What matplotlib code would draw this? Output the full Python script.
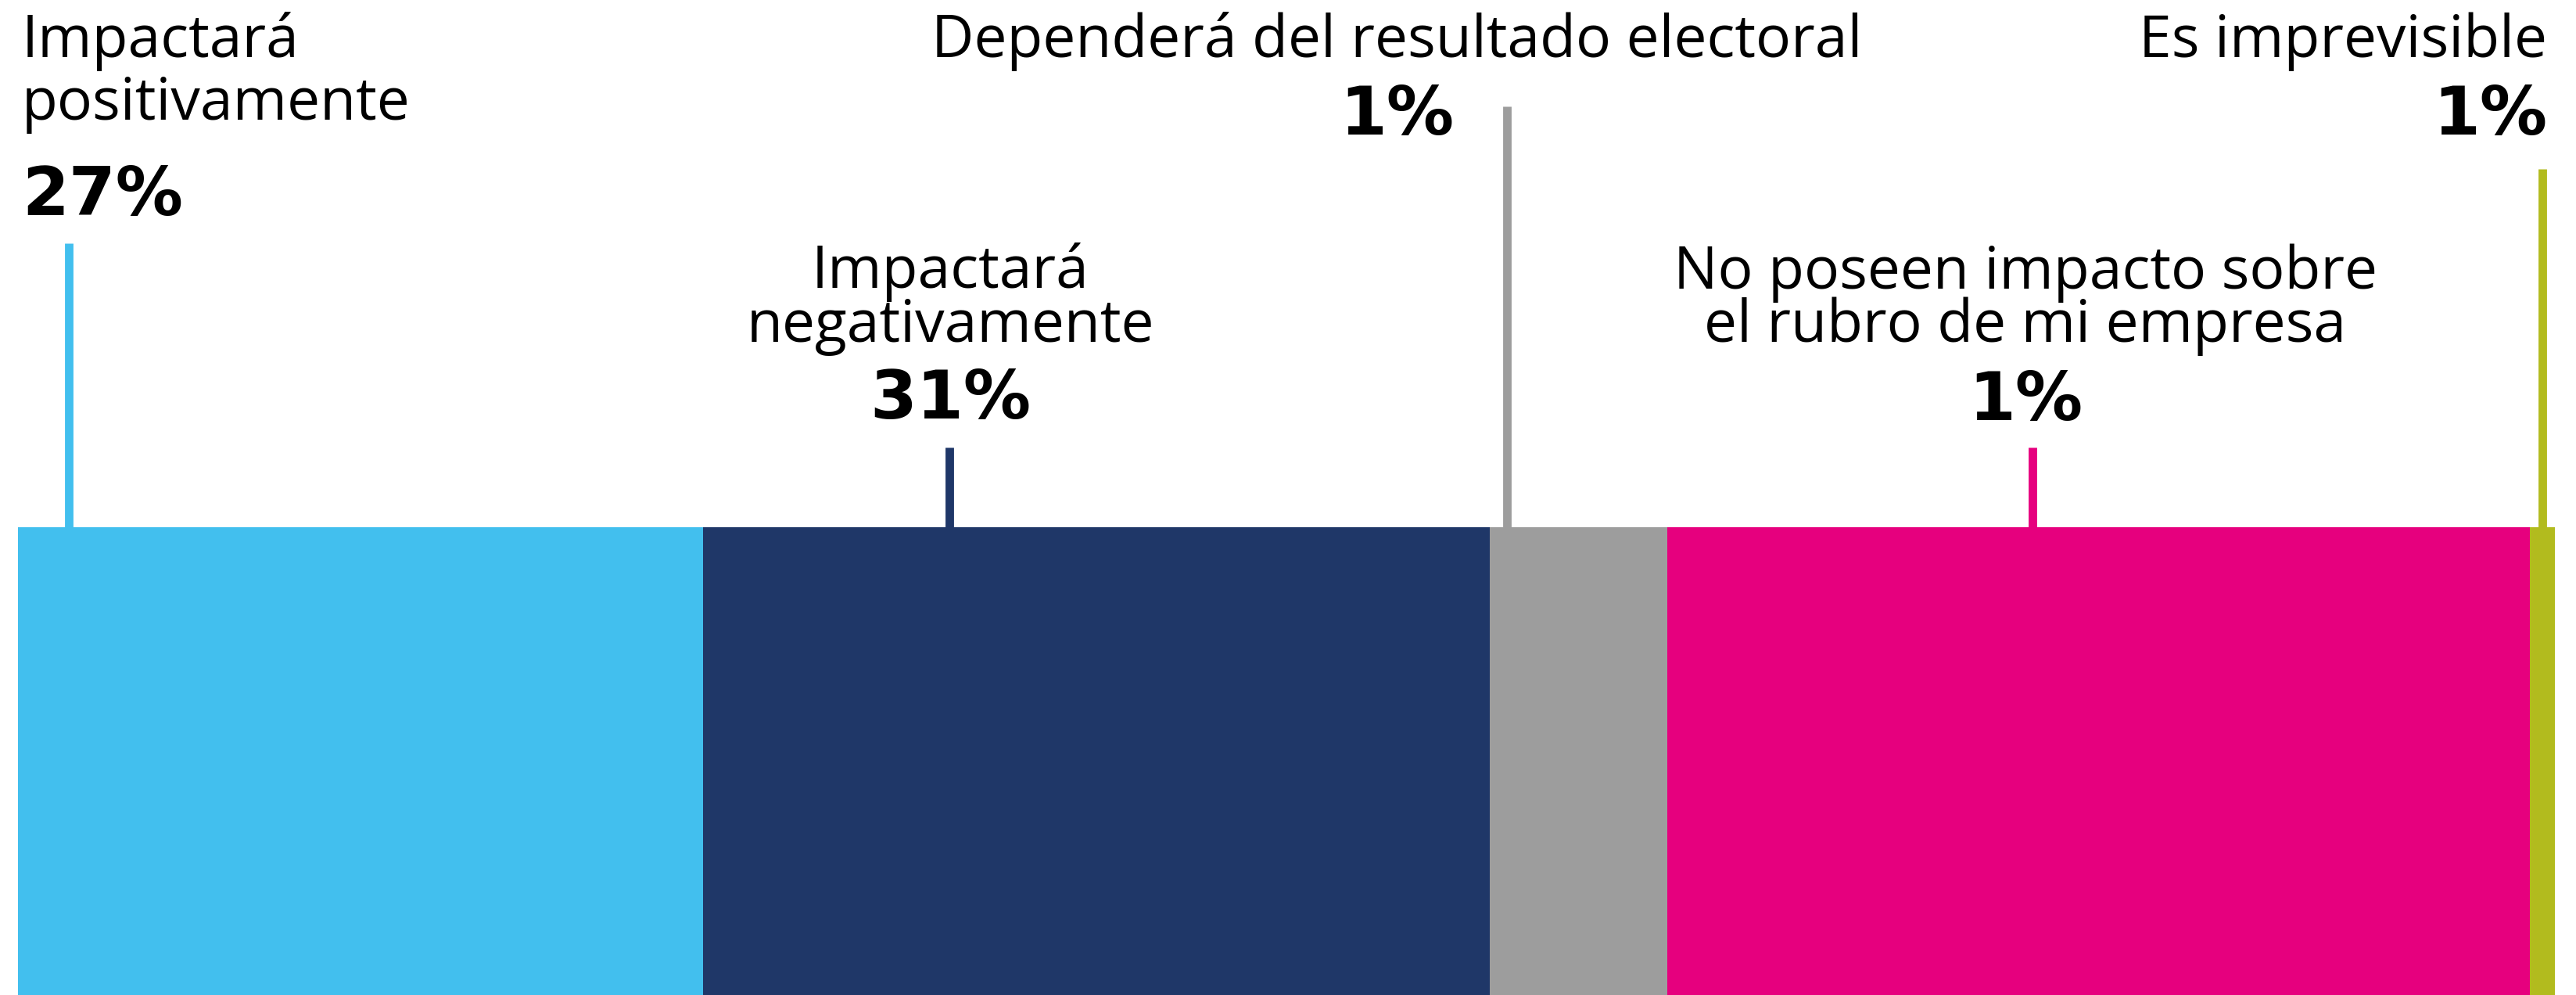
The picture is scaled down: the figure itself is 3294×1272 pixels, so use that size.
import matplotlib
matplotlib.use("Agg")
import matplotlib.pyplot as plt
import numpy as np

# ── Data ──────────────────────────────────────────────────────────────────────

categories = [
    ["Impactará", "positivamente"],
    ["Impactará", "negativamente"],
    ["Dependerá del resultado electoral"],
    ["No poseen impacto sobre", "el rubro de mi empresa"],
    ["Es imprevisible"],
]
values = [27, 31, 7, 34, 1]
value_labels = ["27%", "31%", "1%", "1%", "1%"]

# ── Style / layout ────────────────────────────────────────────────────────────

COLORS = ["#42BFEE", "#1F3768", "#9D9D9D", "#E6007E", "#B2BB1E"]

PX = 32.44        # pixels per percentage point
BAR_LEFT = 23     # px
BAR_TOP = 674     # px from top
H = 1272

# leader line: offset inside segment (in %), top of line (px)
LEADER_OFFSET = [2.0, 9.7, 0.7, 14.4, 0.5]
LEADER_TOP = [311, 572, 136, 572, 216]

# label anchor (px), alignment, baselines of text lines and of the percentage
LABEL_X = [28, 1215, 1786, 2590, 3257]
LABEL_HA = ["left", "center", "center", "center", "right"]
LINE_BASE = [[73, 153], [368, 437], [73], [369, 437], [73]]
PCT_BASE = [275, 535, 172, 537, 172]

FONT = "Open Sans"
PCT_FONT = "DejaVu Sans"
FS_TEXT = 54
FS_PCT = 62


def px2x(px):
    return (px - BAR_LEFT) / PX


fig = plt.figure(figsize=(32.94, 12.72), dpi=100)
ax = fig.add_axes([0, 0, 1, 1])
ax.set_xlim(px2x(0), px2x(3294))
ax.set_ylim(H, 0)
ax.axis("off")

starts = np.concatenate([[0], np.cumsum(values)[:-1]])

ax.barh((BAR_TOP + H) / 2, values, left=starts, height=H - BAR_TOP,
        color=COLORS, edgecolor="none", zorder=2)

for i in range(len(values)):
    lx = starts[i] + LEADER_OFFSET[i]
    ax.vlines(lx, LEADER_TOP[i], BAR_TOP + 2, color=COLORS[i], lw=7.8, zorder=1)

    tx = px2x(LABEL_X[i])
    for line, yb in zip(categories[i], LINE_BASE[i]):
        ax.text(tx, yb, line, ha=LABEL_HA[i], va="baseline",
                fontsize=FS_TEXT, family=FONT, color="black")
    ax.text(tx, PCT_BASE[i], value_labels[i], ha=LABEL_HA[i], va="baseline",
            fontsize=FS_PCT, family=PCT_FONT, fontweight="bold", color="black")

fig.savefig("out.png", dpi=100, facecolor="white")
plt.close(fig)
